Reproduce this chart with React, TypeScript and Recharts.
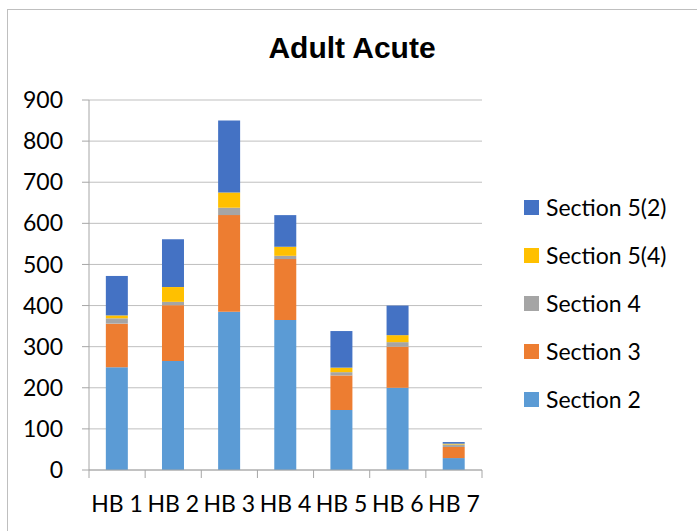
import React from 'react'
import { BarChart, Bar, XAxis, YAxis, CartesianGrid } from 'recharts'

const categories = ['HB 1', 'HB 2', 'HB 3', 'HB 4', 'HB 5', 'HB 6', 'HB 7']
const section2 = [250, 265, 385, 365, 146, 200, 29]
const section3 = [106, 136, 235, 148, 84, 100, 27]
const section4 = [13, 8, 18, 8, 8, 11, 6]
const section54 = [7, 36, 37, 22, 11, 17, 2]
const section52 = [96, 116, 175, 77, 89, 72, 4]
const yTicks = [0, 100, 200, 300, 400, 500, 600, 700, 800, 900]

const series = [
  { key: 's2', name: 'Section 2', color: '#5B9BD5', values: section2 },
  { key: 's3', name: 'Section 3', color: '#ED7D31', values: section3 },
  { key: 's4', name: 'Section 4', color: '#A5A5A5', values: section4 },
  { key: 's54', name: 'Section 5(4)', color: '#FFC000', values: section54 },
  { key: 's52', name: 'Section 5(2)', color: '#4472C4', values: section52 },
]

const data = categories.map((c, i) => {
  const row: Record<string, string | number> = { name: c }
  series.forEach(s => { row[s.key] = s.values[i] })
  return row
})

const font = 'Lato, "Noto Sans", sans-serif'

function XTick(props: any) {
  const { x, y, payload, index } = props
  const half = payload && payload.offset ? payload.offset : 28
  return (
    <g>
      <line x1={x - half} x2={x - half} y1={y} y2={y + 8} stroke="#a6a6a6" />
      {index === categories.length - 1 && (
        <line x1={x + half} x2={x + half} y1={y} y2={y + 8} stroke="#a6a6a6" />
      )}
      <text x={x} y={y + 42} textAnchor="middle" fontSize={23} fontFamily={font} fill="#000">
        {payload.value}
      </text>
    </g>
  )
}

function LegendBox() {
  const items = [...series].reverse()
  return (
    <div style={{ fontFamily: font, fontSize: 23, color: '#000' }}>
      {items.map(s => (
        <div key={s.key} style={{ display: 'flex', alignItems: 'center', height: 48 }}>
          <span style={{ width: 15, height: 15, background: s.color, display: 'inline-block', marginRight: 7 }} />
          <span>{s.name}</span>
        </div>
      ))}
    </div>
  )
}

export default function App() {
  return (
    <div style={{ position: 'absolute', left: 0, top: 0, width: 697, height: 531, background: '#fff', overflow: 'hidden' }}>
      <div style={{ position: 'absolute', left: 7, top: 9, width: 720, height: 560, border: '1px solid #bfbfbf' }} />
      <div style={{ position: 'absolute', left: 7, right: 0, top: 31, textAlign: 'center', fontFamily: '"Liberation Sans", Arial, sans-serif', fontWeight: 'bold', fontSize: 30 }}>
        Adult Acute
      </div>
      <div style={{ position: 'absolute', left: 0, top: 0 }}>
        <BarChart width={697} height={531} data={data} margin={{ top: 100, right: 215, left: 0, bottom: 21 }} barCategoryGap="30%">
          <CartesianGrid vertical={false} stroke="#bfbfbf" />
          <XAxis dataKey="name" axisLine={{ stroke: '#a6a6a6' }} tickLine={false} tickSize={0} tickMargin={0} height={40} interval={0} tick={<XTick />} />
          <YAxis domain={[0, 900]} ticks={yTicks} interval={0} width={89} axisLine={{ stroke: '#a6a6a6' }} tickLine={{ stroke: '#a6a6a6' }} tickSize={7} tickMargin={19} tick={{ fontSize: 23, fontFamily: font, fill: '#000' }} />
          {series.map(s => (
            <Bar key={s.key} dataKey={s.key} name={s.name} stackId="a" fill={s.color} isAnimationActive={false} />
          ))}
        </BarChart>
      </div>
      <div style={{ position: 'absolute', left: 524, top: 183, width: 170 }}>
        <LegendBox />
      </div>
    </div>
  )
}
